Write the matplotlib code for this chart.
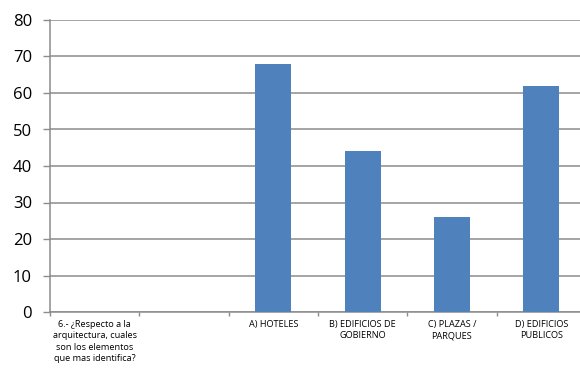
import matplotlib
matplotlib.use("Agg")
import matplotlib.pyplot as plt
import numpy as np

categories = [
    "6.- ¿Respecto a la\narquitectura, cuales\nson los elementos\nque mas identifica?",
    "",
    "A) HOTELES",
    "B) EDIFICIOS DE\nGOBIERNO",
    "C) PLAZAS /\nPARQUES",
    "D) EDIFICIOS\nPUBLICOS",
]
values = [0, 0, 68, 44, 26, 62]
y_ticks = [0, 10, 20, 30, 40, 50, 60, 70, 80]

plt.rcParams['font.family'] = ['Open Sans', 'DejaVu Sans']

fig = plt.figure(figsize=(5.8, 3.7), dpi=100)
ax = fig.add_axes([50/580, 1-312/370, 536/580, (312-20)/370])

x = np.arange(len(categories))
ax.bar(x, values, width=0.4, color="#4F81BD", zorder=3)

ax.set_xlim(-0.5, len(categories)-0.5)
ax.set_ylim(0, 80)
ax.set_yticks(y_ticks)
ax.set_yticklabels([str(v) for v in y_ticks], fontsize=12)
ax.yaxis.grid(True, color="#8C8C8C", linewidth=1.1, zorder=0)
ax.set_axisbelow(True)

ax.set_xticks(np.arange(len(categories)+1) - 0.5)
ax.set_xticklabels([])
ax.set_xticks(x, minor=True)
ax.set_xticklabels(categories, minor=True, fontsize=6.6, linespacing=1.3)
ax.tick_params(axis='x', which='major', length=3, color="#8C8C8C", width=1)
ax.tick_params(axis='x', which='minor', length=0, pad=6)
ax.tick_params(axis='y', length=5, color="#8C8C8C", width=1, pad=8)

for s in ['top', 'right']:
    ax.spines[s].set_visible(False)
for s in ['left', 'bottom']:
    ax.spines[s].set_color("#8C8C8C")
    ax.spines[s].set_linewidth(1.1)

fig.savefig("out.png", dpi=100)
